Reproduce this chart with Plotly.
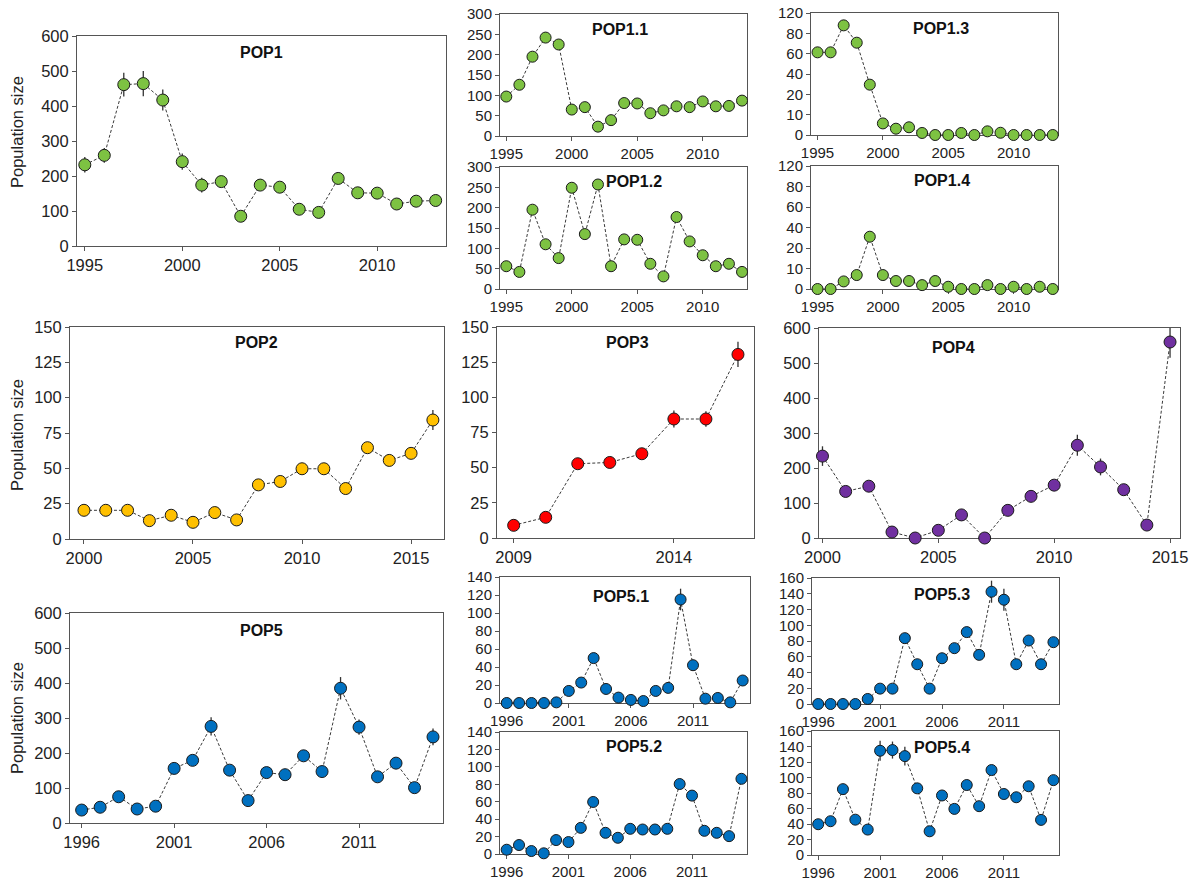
import numpy as np
import plotly.graph_objects as go

# ---------------- data ----------------
years_95 = list(range(1995, 2014))
years_00 = list(range(2000, 2017))
years_09 = list(range(2009, 2017))
years_00b = list(range(2000, 2016))
years_96 = list(range(1996, 2016))

pop1 = [232, 259, 461, 464, 417, 241, 174, 184, 85, 174, 168, 105, 96, 193, 152, 151, 120, 128, 130]
pop1_err = [22, 21, 34, 36, 30, 23, 21, 8, 6, 7, 7, 6, 6, 10, 8, 7, 5, 5, 5]

pop1_1 = [97, 126, 195, 242, 225, 65, 71, 23, 39, 81, 80, 56, 63, 73, 71, 85, 73, 74, 87]
pop1_2 = [56, 42, 195, 110, 76, 249, 135, 257, 56, 122, 121, 62, 31, 177, 117, 83, 56, 62, 42]
pop1_3 = [61.3, 61.3, 95.7, 70.8, 29.5, 5.7, 3.1, 3.8, 1.0, 0, 0, 1.0, 0, 1.8, 1.1, 0, 0, 0, 0]
pop1_4 = [0, 0, 3.7, 6.8, 31, 6.8, 3.9, 3.9, 1.9, 3.9, 1.1, 0, 0, 1.9, 0, 1.1, 0, 1.1, 0]

pop2 = [20.3, 20.3, 20.3, 13, 16.8, 11.8, 18.7, 13.5, 38.3, 40.7, 49.7, 49.7, 35.7, 64.6, 55.6, 60.6, 84.2]
pop2_err = [0, 0, 0, 0, 0, 0, 0, 0, 0, 0, 0, 0, 0, 0, 0, 0, 7]

pop3 = [9, 14.7, 52.8, 53.7, 59.9, 84.6, 84.6, 130.5]
pop3_err = [0, 0, 3, 0, 0, 6, 5.5, 9]

pop4 = [234, 133, 148, 17, 0, 22, 66, 0, 79, 119, 151, 265, 203, 138, 37, 560]
pop4_err = [28, 0, 0, 0, 0, 0, 0, 0, 0, 0, 0, 30, 24, 0, 0, 45]

pop5 = [37, 45, 75, 40, 48, 156, 179, 276, 151, 64, 144, 138, 192, 147, 385, 274, 132, 171, 101, 246]
pop5_err = [0, 0, 0, 0, 0, 0, 0, 26, 0, 0, 0, 0, 0, 0, 32, 22, 0, 0, 0, 24]

pop5_1 = [0, 0, 0, 0, 0.7, 13.4, 22.7, 49.9, 15.6, 6, 3.4, 2.2, 13.4, 16.8, 115, 42, 4.8, 5.6, 0.7, 25]
pop5_1_err = [0, 0, 0, 0, 0, 0, 0, 0, 0, 0, 0, 0, 0, 0, 12, 0, 0, 0, 0, 0]
pop5_2 = [4.9, 10.3, 3.4, 0.8, 16, 13.7, 30, 59.7, 24.3, 18.6, 28.9, 28.1, 28.1, 28.9, 80.3, 67, 26.6, 24.3, 20.5, 86.3]
pop5_3 = [0, 0, 0, 0, 6.4, 19.5, 19.5, 83.6, 50.5, 19.5, 58.1, 70.9, 91.3, 62.4, 142.6, 132.4, 50.5, 80.6, 50.5, 78.5]
pop5_3_err = [0, 0, 0, 0, 0, 0, 0, 0, 0, 0, 0, 0, 0, 0, 14, 14, 0, 0, 0, 0]
pop5_4 = [39.7, 43.6, 85, 45.6, 32.8, 134.5, 135.4, 127.6, 86, 30.6, 76.8, 59.5, 90.3, 63, 109.6, 78.7, 74.5, 88.7, 45.3, 96.6]
pop5_4_err = [0, 0, 0, 0, 0, 13, 11, 12, 0, 0, 0, 0, 0, 0, 0, 0, 0, 0, 0, 0]

# breakpoints of the stretched low-count scale used by POP1.3 / POP1.4
split_ticks = [0, 10, 20, 40, 60, 80, 120]

GREEN = "#7DC242"
ORANGE = "#FFC000"
RED = "#FF0000"
PURPLE = "#7030A0"
BLUE = "#0070C0"

W, H = 1198, 881
FONT = "Arial, Liberation Sans, sans-serif"


def split_scale(vals):
    return list(np.interp(vals, split_ticks, range(len(split_ticks))))


# panel: name, x, y, err, colour, box (left, right, top, bottom px), y-axis spec, x range, tick0,
#        big panel flag, title centre (px)
panels = [
    dict(name="POP1", x=years_95, y=pop1, err=pop1_err, color=GREEN, box=(77, 446, 36, 246),
         yr=(0, 600), dy=100, xr=(1994.6, 2013.53), t0=1995, big=True, tc=(261, 52)),
    dict(name="POP1.1", x=years_95, y=pop1_1, err=None, color=GREEN, box=(500, 747, 14, 136),
         yr=(0, 300), dy=50, xr=(1994.52, 2013.38), t0=1995, big=False, tc=(620, 29)),
    dict(name="POP1.2", x=years_95, y=pop1_2, err=None, color=GREEN, box=(500, 747, 167, 289),
         yr=(0, 300), dy=50, xr=(1994.52, 2013.38), t0=1995, big=False, tc=(634, 181)),
    dict(name="POP1.3", x=years_95, y=pop1_3, err=None, color=GREEN, box=(811, 1058, 13, 135),
         split=True, xr=(1994.5, 2013.4), t0=1995, big=False, tc=(941, 28)),
    dict(name="POP1.4", x=years_95, y=pop1_4, err=None, color=GREEN, box=(811, 1058, 166, 289),
         split=True, xr=(1994.5, 2013.4), t0=1995, big=False, tc=(942, 180)),
    dict(name="POP2", x=years_00, y=pop2, err=pop2_err, color=ORANGE, box=(70, 444, 327, 539),
         yr=(0, 150), dy=25, xr=(1999.36, 2016.51), t0=2000, big=True, tc=(256, 343)),
    dict(name="POP3", x=years_09, y=pop3, err=pop3_err, color=RED, box=(497, 754, 327, 538),
         yr=(0, 150), dy=25, xr=(2008.48, 2016.5), t0=2009, big=True, tc=(627, 343)),
    dict(name="POP4", x=years_00b, y=pop4, err=pop4_err, color=PURPLE, box=(819, 1180, 328, 538),
         yr=(0, 600), dy=100, xr=(1999.85, 2015.43), t0=2000, big=True, tc=(953, 347)),
    dict(name="POP5", x=years_96, y=pop5, err=pop5_err, color=BLUE, box=(70, 443, 613, 823),
         yr=(0, 600), dy=100, xr=(1995.37, 2015.54), t0=1996, big=True, tc=(261, 630)),
    dict(name="POP5.1", x=years_96, y=pop5_1, err=pop5_1_err, color=BLUE, box=(500, 750, 577, 703),
         yr=(0, 140), dy=20, xr=(1995.46, 2015.59), t0=1996, big=False, tc=(621, 596)),
    dict(name="POP5.2", x=years_96, y=pop5_2, err=None, color=BLUE, box=(500, 747, 732, 854),
         yr=(0, 140), dy=20, xr=(1995.46, 2015.45), t0=1996, big=False, tc=(634, 746)),
    dict(name="POP5.3", x=years_96, y=pop5_3, err=pop5_3_err, color=BLUE, box=(812, 1059, 578, 704),
         yr=(0, 160), dy=20, xr=(1995.5, 2015.45), t0=1996, big=False, tc=(942, 594)),
    dict(name="POP5.4", x=years_96, y=pop5_4, err=pop5_4_err, color=BLUE, box=(812, 1059, 731, 855),
         yr=(0, 160), dy=20, xr=(1995.5, 2015.45), t0=1996, big=False, tc=(942, 747)),
]

fig = go.Figure()
layout = dict(
    width=W, height=H,
    margin=dict(l=0, r=0, t=0, b=0, autoexpand=False),
    paper_bgcolor="white", plot_bgcolor="white",
    showlegend=False,
    font=dict(family=FONT, color="#222222"),
    annotations=[],
)

AX_COLOR = "#555555"

for i, p in enumerate(panels, start=1):
    sfx = "" if i == 1 else str(i)
    xref, yref = "x" + sfx, "y" + sfx
    l, r, t, b = p["box"]
    tick_size = 16.5 if p["big"] else 15

    yvals = split_scale(p["y"]) if p.get("split") else p["y"]
    err = None
    if p["err"] is not None:
        err = dict(type="data", array=p["err"], visible=True, width=0,
                   thickness=1.3, color="#333333")

    fig.add_trace(go.Scatter(
        x=p["x"], y=yvals, xaxis=xref, yaxis=yref,
        mode="lines+markers",
        line=dict(color="#3a3a3a", width=1, dash="3px,2px"),
        marker=dict(size=12 if p["big"] else 11, color=p["color"],
                    line=dict(color="#1a1a1a", width=1)),
        error_y=err,
        cliponaxis=False,
        hoverinfo="skip",
    ))

    layout["xaxis" + sfx] = dict(
        domain=[l / W, r / W], anchor=yref, range=list(p["xr"]),
        tick0=p["t0"], dtick=5, ticks="outside", ticklen=4, tickwidth=1,
        tickcolor=AX_COLOR, showline=True, linecolor=AX_COLOR, linewidth=1,
        mirror=True, showgrid=False, zeroline=False, layer="below traces",
        automargin=False,
        tickfont=dict(size=tick_size, family=FONT, color="#222222"),
    )
    ycfg = dict(
        domain=[1 - b / H, 1 - t / H], anchor=xref,
        ticks="outside", ticklen=4, tickwidth=1, tickcolor=AX_COLOR,
        showline=True, linecolor=AX_COLOR, linewidth=1, mirror=True,
        showgrid=False, zeroline=False, layer="below traces",
        automargin=False,
        tickfont=dict(size=tick_size, family=FONT, color="#222222"),
    )
    if p.get("split"):
        ycfg.update(range=[0, len(split_ticks) - 1],
                    tickvals=list(range(len(split_ticks))),
                    ticktext=[str(v) for v in split_ticks])
    else:
        ycfg.update(range=list(p["yr"]), tick0=0, dtick=p["dy"])
    layout["yaxis" + sfx] = ycfg

    tx, ty = p["tc"]
    layout["annotations"].append(dict(
        text="<b>%s</b>" % p["name"], x=tx / W, y=1 - ty / H,
        xref="paper", yref="paper", xanchor="center", yanchor="middle",
        showarrow=False, font=dict(size=16, family=FONT, color="#111111"),
    ))

# shared y-axis caption for the three left-hand panels
for cy in (132, 435, 718):
    layout["annotations"].append(dict(
        text="Population size", x=17 / W, y=1 - cy / H,
        xref="paper", yref="paper", xanchor="center", yanchor="middle",
        textangle=-90, showarrow=False,
        font=dict(size=16.5, family=FONT, color="#222222"),
    ))

fig.update_layout(**layout)
fig.write_html("out.html")
